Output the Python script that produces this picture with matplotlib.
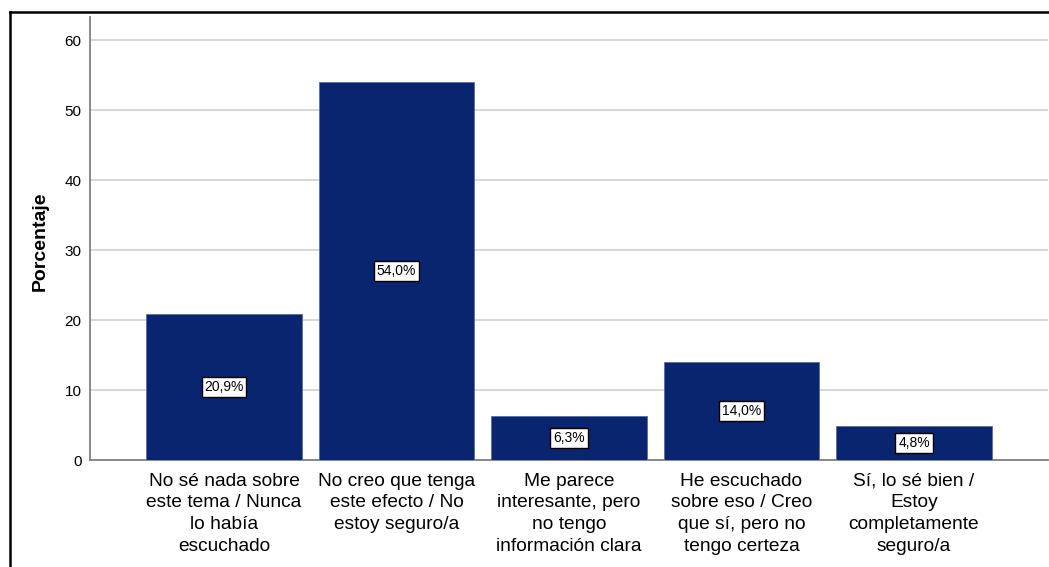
import numpy as np
import matplotlib.pyplot as plt
from matplotlib.lines import Line2D

plt.rcParams['font.family'] = ['Liberation Sans', 'DejaVu Sans']

# Datos
categorias = ['No sé nada sobre\neste tema / Nunca\nlo había\nescuchado',
              'No creo que tenga\neste efecto / No\nestoy seguro/a',
              'Me parece\ninteresante, pero\nno tengo\ninformación clara',
              'He escuchado\nsobre eso / Creo\nque sí, pero no\ntengo certeza',
              'Sí, lo sé bien /\nEstoy\ncompletamente\nseguro/a']
porcentajes = [20.9, 54.0, 6.3, 14.0, 4.8]
etiquetas = ['20,9%', '54,0%', '6,3%', '14,0%', '4,8%']
yticks = [0, 10, 20, 30, 40, 50, 60]

W, H = 1049, 567
fig = plt.figure(figsize=(W / 100, H / 100), dpi=100)

# Area del grafico (en pixeles)
x0, x1 = 90, 1048
y0, y1 = 460, 17
ax = fig.add_axes([x0 / W, 1 - y0 / H, (x1 - x0) / W, (y0 - y1) / H])

x = np.arange(len(categorias))
ax.bar(x, porcentajes, width=0.9, color='#0a2570', edgecolor='#5a6ea0',
       linewidth=0.6, zorder=3)

for xi, v, lab in zip(x, porcentajes, etiquetas):
    ax.text(xi, v / 2, lab, ha='center', va='center', fontsize=10,
            zorder=4,
            bbox=dict(boxstyle='square,pad=0.2', fc='white', ec='black', lw=1))

ax.set_xlim(-0.777, 4.777)
ax.set_ylim(0, 63.3)
ax.set_yticks(yticks)
ax.set_yticklabels([str(t) for t in yticks], fontsize=11)
ax.set_xticks(x)
ax.set_xticklabels(categorias, fontsize=13.8, linespacing=1.38, va='top')

ax.grid(axis='y', color='#d0d0d0', linewidth=1.2, zorder=0)
ax.tick_params(axis='y', length=0, pad=6)
ax.tick_params(axis='x', length=0, pad=9)

for s in ['top', 'right']:
    ax.spines[s].set_visible(False)
for s in ['left', 'bottom']:
    ax.spines[s].set_color('#808080')
    ax.spines[s].set_linewidth(1.3)

ax.set_ylabel('Porcentaje', fontsize=14, fontweight='bold', va='center')
ax.yaxis.set_label_coords(-0.052, 0.494)

# Marco del resultado
fig.add_artist(Line2D([10 / W, 10 / W], [0, 1 - 12 / H], color='black', lw=1.8))
fig.add_artist(Line2D([10 / W, 1], [1 - 12 / H, 1 - 12 / H], color='black', lw=1.8))

fig.savefig('out.png', dpi=100)
